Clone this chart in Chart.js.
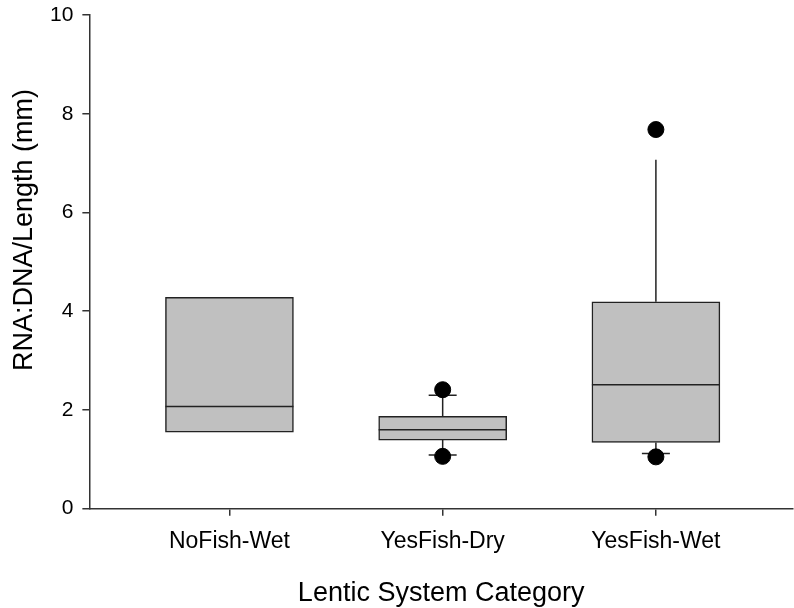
<!DOCTYPE html>
<html>
<head>
<meta charset="utf-8">
<script src="https://cdn.jsdelivr.net/npm/chart.js@4.4.1/dist/chart.umd.min.js"></script>
<style>
  html, body { margin: 0; padding: 0; background: #fff; }
  #wrap { width: 794px; height: 608px; }
</style>
</head>
<body>
<div id="wrap"><canvas id="chart" width="794" height="608"></canvas></div>
<script>
// Box plot values
const categories = ['NoFish-Wet', 'YesFish-Dry', 'YesFish-Wet'];
const q1 = [1.55, 1.39, 1.34];
const medians = [2.07, 1.60, 2.51];
const q3 = [4.28, 1.87, 4.19];
const whiskerLow = [null, 1.09, 1.12];
const whiskerHigh = [null, 2.30, 7.07];
const outlierCategory = [2, 2, 3, 3];
const outlierValues = [2.41, 1.06, 7.68, 1.05];
const yTicks = [0, 2, 4, 6, 8, 10];

const FONT = "'Liberation Sans', Arial, sans-serif";
const LINE = '#222';

// which whisker ends get a cap (top cap of the last box is not drawn in the original)
const capLow = [false, true, true];
const capHigh = [false, true, false];

const boxPlugin = {
  id: 'boxParts',
  beforeDatasetsDraw(chart) {
    const { ctx, scales: { x, y } } = chart;
    ctx.save();
    ctx.strokeStyle = LINE;
    ctx.lineWidth = 1.5;
    categories.forEach((c, i) => {
      const cx = x.getPixelForValue(i + 1);
      const capHalf = 14;
      if (whiskerHigh[i] != null) {
        ctx.beginPath();
        ctx.moveTo(cx, y.getPixelForValue(q3[i]));
        ctx.lineTo(cx, y.getPixelForValue(whiskerHigh[i]));
        if (capHigh[i]) {
          ctx.moveTo(cx - capHalf, y.getPixelForValue(whiskerHigh[i]));
          ctx.lineTo(cx + capHalf, y.getPixelForValue(whiskerHigh[i]));
        }
        ctx.stroke();
      }
      if (whiskerLow[i] != null) {
        ctx.beginPath();
        ctx.moveTo(cx, y.getPixelForValue(q1[i]));
        ctx.lineTo(cx, y.getPixelForValue(whiskerLow[i]));
        if (capLow[i]) {
          ctx.moveTo(cx - capHalf, y.getPixelForValue(whiskerLow[i]));
          ctx.lineTo(cx + capHalf, y.getPixelForValue(whiskerLow[i]));
        }
        ctx.stroke();
      }
    });
    ctx.restore();
  },
  afterDatasetsDraw(chart) {
    const { ctx, scales: { y } } = chart;
    const bars = chart.getDatasetMeta(0).data;
    ctx.save();
    ctx.strokeStyle = LINE;
    ctx.lineWidth = 1.5;
    bars.forEach((bar, i) => {
      const my = y.getPixelForValue(medians[i]);
      ctx.beginPath();
      ctx.moveTo(bar.x - bar.width / 2, my);
      ctx.lineTo(bar.x + bar.width / 2, my);
      ctx.stroke();
    });
    ctx.restore();
  },
  afterDraw(chart) {
    // y axis title, placed like the original (not centred on the axis)
    const { ctx } = chart;
    ctx.save();
    ctx.translate(32, 230);
    ctx.rotate(-Math.PI / 2);
    ctx.fillStyle = '#000';
    ctx.font = '27px ' + FONT;
    ctx.textAlign = 'center';
    ctx.textBaseline = 'alphabetic';
    ctx.fillText('RNA:DNA/Length (mm)', 0, 0);
    ctx.restore();
  }
};

new Chart(document.getElementById('chart'), {
  type: 'bar',
  data: {
    datasets: [
      {
        type: 'bar',
        data: categories.map((c, i) => ({ x: i + 1, y: [q1[i], q3[i]] })),
        backgroundColor: '#c0c0c0',
        borderColor: LINE,
        borderWidth: 1.5,
        borderSkipped: false,
        barThickness: 128,
        order: 2
      },
      {
        type: 'scatter',
        data: outlierValues.map((v, i) => ({ x: outlierCategory[i], y: v })),
        backgroundColor: '#000',
        borderColor: '#000',
        pointRadius: 8,
        order: 1
      }
    ]
  },
  plugins: [boxPlugin],
  options: {
    responsive: false,
    animation: false,
    layout: { autoPadding: false, padding: { top: 15, left: 41, right: 1, bottom: 0 } },
    plugins: { legend: { display: false }, tooltip: { enabled: false } },
    scales: {
      x: {
        type: 'linear',
        offset: false,
        min: 0.343,
        max: 3.643,
        afterBuildTicks(scale) {
          scale.ticks = categories.map((c, i) => ({ value: i + 1 }));
        },
        afterFit(scale) {
          scale.paddingLeft = 0;
          scale.paddingRight = 0;
        },
        ticks: {
          autoSkip: false,
          maxRotation: 0,
          padding: 12,
          color: '#000',
          font: { family: FONT, size: 23 },
          callback: (v) => categories[v - 1]
        },
        grid: { offset: false, drawOnChartArea: false, drawTicks: true, tickLength: 7, color: '#333', lineWidth: 1.5 },
        border: { display: true, color: '#333', width: 1.5 },
        title: {
          display: true,
          text: 'Lentic System Category',
          color: '#000',
          font: { family: FONT, size: 27, lineHeight: 1.1 },
          padding: { top: 11, bottom: 0 }
        }
      },
      y: {
        min: 0,
        max: 10,
        afterBuildTicks(scale) {
          scale.ticks = yTicks.map(v => ({ value: v }));
        },
        afterFit(scale) {
          scale.paddingTop = 0;
          scale.paddingBottom = 0;
        },
        ticks: {
          padding: 9,
          color: '#000',
          font: { family: FONT, size: 21 }
        },
        grid: { drawOnChartArea: false, drawTicks: true, tickLength: 7, color: '#333', lineWidth: 1.5 },
        border: { display: true, color: '#333', width: 1.5 }
      }
    }
  }
});
</script>
</body>
</html>
